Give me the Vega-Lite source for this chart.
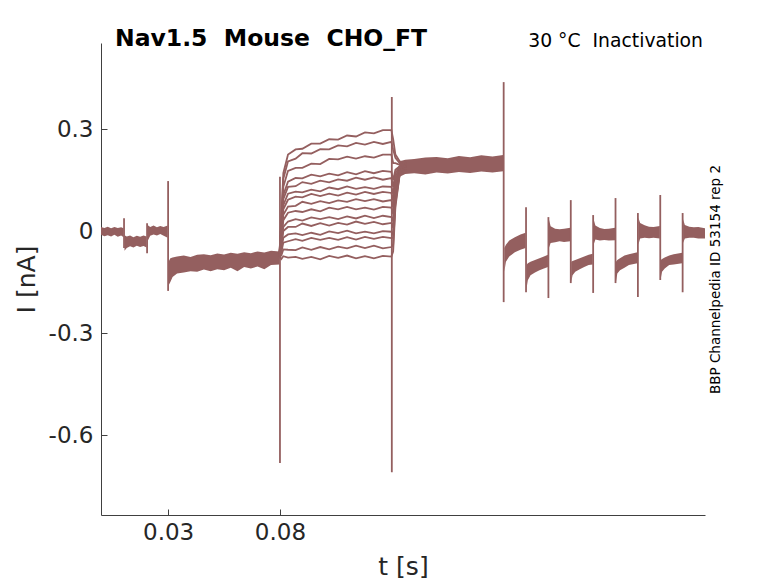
{
  "$schema": "https://vega.github.io/schema/vega-lite/v6.json",
  "width": 604,
  "height": 472,
  "autosize": "none",
  "padding": {"left": 101, "top": 43, "right": 73, "bottom": 68},
  "background": "white",
  "title": {
    "text": "Nav1.5\u00a0\u00a0Mouse\u00a0\u00a0CHO_FT",
    "anchor": "start",
    "frame": "group",
    "dx": 14,
    "dy": 38,
    "offset": 1,
    "baseline": "alphabetic",
    "font": "DejaVu Sans",
    "fontSize": 23.5,
    "fontWeight": "bold",
    "color": "#000000"
  },
  "datasets": {
    "bands": [
      {"seg": "A", "t": 0, "lo": -0.011, "hi": 0.012},
      {"seg": "A", "t": 0.0015, "lo": -0.015, "hi": 0.009},
      {"seg": "A", "t": 0.003, "lo": -0.012, "hi": 0.013},
      {"seg": "A", "t": 0.0045, "lo": -0.016, "hi": 0.008},
      {"seg": "A", "t": 0.006, "lo": -0.011, "hi": 0.012},
      {"seg": "A", "t": 0.0075, "lo": -0.017, "hi": 0.009},
      {"seg": "A", "t": 0.009, "lo": -0.013, "hi": 0.011},
      {"seg": "A", "t": 0.0101, "lo": -0.018, "hi": 0.008},
      {"seg": "B", "t": 0.0105, "lo": -0.058, "hi": -0.012},
      {"seg": "B", "t": 0.0115, "lo": -0.05, "hi": -0.016},
      {"seg": "B", "t": 0.013, "lo": -0.045, "hi": -0.013},
      {"seg": "B", "t": 0.0145, "lo": -0.048, "hi": -0.018},
      {"seg": "B", "t": 0.016, "lo": -0.043, "hi": -0.014},
      {"seg": "B", "t": 0.0175, "lo": -0.047, "hi": -0.017},
      {"seg": "B", "t": 0.019, "lo": -0.044, "hi": -0.013},
      {"seg": "B", "t": 0.0204, "lo": -0.048, "hi": -0.016},
      {"seg": "C", "t": 0.0208, "lo": -0.03, "hi": 0.018},
      {"seg": "C", "t": 0.022, "lo": -0.014, "hi": 0.012},
      {"seg": "C", "t": 0.0235, "lo": -0.01, "hi": 0.016},
      {"seg": "C", "t": 0.025, "lo": -0.013, "hi": 0.011},
      {"seg": "C", "t": 0.0265, "lo": -0.009, "hi": 0.015},
      {"seg": "C", "t": 0.028, "lo": -0.014, "hi": 0.012},
      {"seg": "C", "t": 0.0298, "lo": -0.02, "hi": 0.016},
      {"seg": "D", "t": 0.0302, "lo": -0.16, "hi": -0.09},
      {"seg": "D", "t": 0.031, "lo": -0.15, "hi": -0.08},
      {"seg": "D", "t": 0.032, "lo": -0.135, "hi": -0.078},
      {"seg": "D", "t": 0.034, "lo": -0.125, "hi": -0.075},
      {"seg": "D", "t": 0.037, "lo": -0.122, "hi": -0.072},
      {"seg": "D", "t": 0.04, "lo": -0.118, "hi": -0.076},
      {"seg": "D", "t": 0.043, "lo": -0.12, "hi": -0.07},
      {"seg": "D", "t": 0.046, "lo": -0.113, "hi": -0.068},
      {"seg": "D", "t": 0.049, "lo": -0.118, "hi": -0.071},
      {"seg": "D", "t": 0.052, "lo": -0.112, "hi": -0.066},
      {"seg": "D", "t": 0.055, "lo": -0.115, "hi": -0.069},
      {"seg": "D", "t": 0.058, "lo": -0.108, "hi": -0.064},
      {"seg": "D", "t": 0.061, "lo": -0.118, "hi": -0.067},
      {"seg": "D", "t": 0.064, "lo": -0.106, "hi": -0.062},
      {"seg": "D", "t": 0.067, "lo": -0.11, "hi": -0.065},
      {"seg": "D", "t": 0.07, "lo": -0.104, "hi": -0.06},
      {"seg": "D", "t": 0.073, "lo": -0.112, "hi": -0.063},
      {"seg": "D", "t": 0.076, "lo": -0.1, "hi": -0.058},
      {"seg": "D", "t": 0.0798, "lo": -0.098, "hi": -0.06},
      {"seg": "F", "t": 0.1335, "lo": 0.16, "hi": 0.205},
      {"seg": "F", "t": 0.136, "lo": 0.168, "hi": 0.21},
      {"seg": "F", "t": 0.14, "lo": 0.17, "hi": 0.212},
      {"seg": "F", "t": 0.145, "lo": 0.166, "hi": 0.216},
      {"seg": "F", "t": 0.15, "lo": 0.172, "hi": 0.218},
      {"seg": "F", "t": 0.155, "lo": 0.169, "hi": 0.214},
      {"seg": "F", "t": 0.16, "lo": 0.174, "hi": 0.221},
      {"seg": "F", "t": 0.165, "lo": 0.171, "hi": 0.217},
      {"seg": "F", "t": 0.17, "lo": 0.175, "hi": 0.223},
      {"seg": "F", "t": 0.175, "lo": 0.172, "hi": 0.219},
      {"seg": "F", "t": 0.1798, "lo": 0.176, "hi": 0.224},
      {"seg": "G", "t": 0.1803, "lo": -0.12, "hi": -0.05},
      {"seg": "G", "t": 0.181, "lo": -0.09, "hi": -0.04},
      {"seg": "G", "t": 0.1825, "lo": -0.075, "hi": -0.028},
      {"seg": "G", "t": 0.185, "lo": -0.062, "hi": -0.018},
      {"seg": "G", "t": 0.1875, "lo": -0.055, "hi": -0.01},
      {"seg": "G", "t": 0.1898, "lo": -0.05, "hi": -0.005},
      {"seg": "H", "t": 0.1902, "lo": -0.17, "hi": -0.1},
      {"seg": "H", "t": 0.1908, "lo": -0.145, "hi": -0.095},
      {"seg": "H", "t": 0.192, "lo": -0.13, "hi": -0.09},
      {"seg": "H", "t": 0.194, "lo": -0.122, "hi": -0.085},
      {"seg": "H", "t": 0.196, "lo": -0.115, "hi": -0.08},
      {"seg": "H", "t": 0.198, "lo": -0.11, "hi": -0.075},
      {"seg": "H", "t": 0.1998, "lo": -0.106, "hi": -0.07},
      {"seg": "I", "t": 0.2002, "lo": -0.05, "hi": 0.035},
      {"seg": "I", "t": 0.201, "lo": -0.035, "hi": 0.014},
      {"seg": "I", "t": 0.203, "lo": -0.033, "hi": 0.007},
      {"seg": "I", "t": 0.205, "lo": -0.03, "hi": 0.005},
      {"seg": "I", "t": 0.207, "lo": -0.032, "hi": 0.007},
      {"seg": "I", "t": 0.2098, "lo": -0.03, "hi": 0.01},
      {"seg": "J", "t": 0.2102, "lo": -0.15, "hi": -0.09},
      {"seg": "J", "t": 0.2108, "lo": -0.13, "hi": -0.088},
      {"seg": "J", "t": 0.212, "lo": -0.12, "hi": -0.085},
      {"seg": "J", "t": 0.214, "lo": -0.112, "hi": -0.08},
      {"seg": "J", "t": 0.216, "lo": -0.106, "hi": -0.075},
      {"seg": "J", "t": 0.218, "lo": -0.1, "hi": -0.07},
      {"seg": "J", "t": 0.2198, "lo": -0.098, "hi": -0.067},
      {"seg": "K", "t": 0.2202, "lo": -0.04, "hi": 0.035},
      {"seg": "K", "t": 0.221, "lo": -0.025, "hi": 0.016},
      {"seg": "K", "t": 0.223, "lo": -0.028, "hi": 0.009},
      {"seg": "K", "t": 0.225, "lo": -0.026, "hi": 0.006},
      {"seg": "K", "t": 0.227, "lo": -0.028, "hi": 0.007},
      {"seg": "K", "t": 0.2298, "lo": -0.027, "hi": 0.01},
      {"seg": "L", "t": 0.2302, "lo": -0.15, "hi": -0.09},
      {"seg": "L", "t": 0.2308, "lo": -0.125, "hi": -0.085},
      {"seg": "L", "t": 0.232, "lo": -0.115, "hi": -0.08},
      {"seg": "L", "t": 0.234, "lo": -0.108, "hi": -0.072},
      {"seg": "L", "t": 0.236, "lo": -0.1, "hi": -0.068},
      {"seg": "L", "t": 0.2398, "lo": -0.095, "hi": -0.062},
      {"seg": "M", "t": 0.2402, "lo": -0.04, "hi": 0.04},
      {"seg": "M", "t": 0.241, "lo": -0.022, "hi": 0.024},
      {"seg": "M", "t": 0.243, "lo": -0.02, "hi": 0.017},
      {"seg": "M", "t": 0.245, "lo": -0.021, "hi": 0.013},
      {"seg": "M", "t": 0.247, "lo": -0.02, "hi": 0.012},
      {"seg": "M", "t": 0.2498, "lo": -0.022, "hi": 0.015},
      {"seg": "N", "t": 0.2502, "lo": -0.14, "hi": -0.085},
      {"seg": "N", "t": 0.2508, "lo": -0.12, "hi": -0.082},
      {"seg": "N", "t": 0.252, "lo": -0.11, "hi": -0.078},
      {"seg": "N", "t": 0.254, "lo": -0.1, "hi": -0.072},
      {"seg": "N", "t": 0.256, "lo": -0.098, "hi": -0.068},
      {"seg": "N", "t": 0.2598, "lo": -0.095, "hi": -0.064},
      {"seg": "O", "t": 0.2602, "lo": -0.035, "hi": 0.035},
      {"seg": "O", "t": 0.261, "lo": -0.022, "hi": 0.018},
      {"seg": "O", "t": 0.263, "lo": -0.02, "hi": 0.013},
      {"seg": "O", "t": 0.265, "lo": -0.02, "hi": 0.011},
      {"seg": "O", "t": 0.267, "lo": -0.022, "hi": 0.012},
      {"seg": "O", "t": 0.27, "lo": -0.022, "hi": 0.008}
    ],
    "lines": [
      {"id": "p1", "t": 0.0103, "v": 0.038}, {"id": "p1", "t": 0.0103, "v": -0.05},
      {"id": "p2", "t": 0.0206, "v": 0.023}, {"id": "p2", "t": 0.0206, "v": -0.065},
      {"id": "p3", "t": 0.03, "v": 0.147}, {"id": "p3", "t": 0.03, "v": -0.176},
      {"id": "p4", "t": 0.08, "v": 0.16}, {"id": "p4", "t": 0.08, "v": -0.682},
      {"id": "p5", "t": 0.13, "v": 0.394}, {"id": "p5", "t": 0.13, "v": -0.709},
      {"id": "p6", "t": 0.18, "v": 0.438}, {"id": "p6", "t": 0.18, "v": -0.209},
      {"id": "p7", "t": 0.19, "v": 0.07}, {"id": "p7", "t": 0.19, "v": -0.18},
      {"id": "p8", "t": 0.2, "v": 0.041}, {"id": "p8", "t": 0.2, "v": -0.197},
      {"id": "p9", "t": 0.21, "v": 0.091}, {"id": "p9", "t": 0.21, "v": -0.153},
      {"id": "p10", "t": 0.22, "v": 0.047}, {"id": "p10", "t": 0.22, "v": -0.182},
      {"id": "p11", "t": 0.23, "v": 0.097}, {"id": "p11", "t": 0.23, "v": -0.153},
      {"id": "p12", "t": 0.24, "v": 0.053}, {"id": "p12", "t": 0.24, "v": -0.194},
      {"id": "p13", "t": 0.25, "v": 0.106}, {"id": "p13", "t": 0.25, "v": -0.144},
      {"id": "p14", "t": 0.26, "v": 0.053}, {"id": "p14", "t": 0.26, "v": -0.18},

      {"id": "s1", "t": 0.0797, "v": -0.075}, {"id": "s1", "t": 0.0806, "v": 0.04}, {"id": "s1", "t": 0.0815, "v": 0.17},
      {"id": "s1", "t": 0.0836, "v": 0.225}, {"id": "s1", "t": 0.087, "v": 0.24}, {"id": "s1", "t": 0.09, "v": 0.242},
      {"id": "s1", "t": 0.094, "v": 0.257}, {"id": "s1", "t": 0.098, "v": 0.257}, {"id": "s1", "t": 0.102, "v": 0.27},
      {"id": "s1", "t": 0.106, "v": 0.269}, {"id": "s1", "t": 0.11, "v": 0.281}, {"id": "s1", "t": 0.114, "v": 0.278},
      {"id": "s1", "t": 0.118, "v": 0.29}, {"id": "s1", "t": 0.122, "v": 0.287}, {"id": "s1", "t": 0.126, "v": 0.297},
      {"id": "s1", "t": 0.1298, "v": 0.297}, {"id": "s1", "t": 0.1306, "v": 0.27}, {"id": "s1", "t": 0.1316, "v": 0.225},
      {"id": "s1", "t": 0.1335, "v": 0.205}, {"id": "s1", "t": 0.1365, "v": 0.2},

      {"id": "s2", "t": 0.0797, "v": -0.075}, {"id": "s2", "t": 0.0806, "v": 0.032}, {"id": "s2", "t": 0.0815, "v": 0.154},
      {"id": "s2", "t": 0.0836, "v": 0.205}, {"id": "s2", "t": 0.087, "v": 0.213}, {"id": "s2", "t": 0.09, "v": 0.229},
      {"id": "s2", "t": 0.094, "v": 0.228}, {"id": "s2", "t": 0.098, "v": 0.241}, {"id": "s2", "t": 0.102, "v": 0.24},
      {"id": "s2", "t": 0.106, "v": 0.252}, {"id": "s2", "t": 0.11, "v": 0.249}, {"id": "s2", "t": 0.114, "v": 0.259},
      {"id": "s2", "t": 0.118, "v": 0.254}, {"id": "s2", "t": 0.122, "v": 0.262}, {"id": "s2", "t": 0.126, "v": 0.256},
      {"id": "s2", "t": 0.1298, "v": 0.262}, {"id": "s2", "t": 0.1306, "v": 0.24}, {"id": "s2", "t": 0.1316, "v": 0.215},
      {"id": "s2", "t": 0.1335, "v": 0.2}, {"id": "s2", "t": 0.1365, "v": 0.198},

      {"id": "s3", "t": 0.0797, "v": -0.075}, {"id": "s3", "t": 0.0806, "v": 0.02}, {"id": "s3", "t": 0.0815, "v": 0.13},
      {"id": "s3", "t": 0.0836, "v": 0.177}, {"id": "s3", "t": 0.087, "v": 0.186}, {"id": "s3", "t": 0.09, "v": 0.186},
      {"id": "s3", "t": 0.094, "v": 0.198}, {"id": "s3", "t": 0.098, "v": 0.197}, {"id": "s3", "t": 0.102, "v": 0.212},
      {"id": "s3", "t": 0.106, "v": 0.211}, {"id": "s3", "t": 0.11, "v": 0.219}, {"id": "s3", "t": 0.114, "v": 0.213},
      {"id": "s3", "t": 0.118, "v": 0.22}, {"id": "s3", "t": 0.122, "v": 0.216}, {"id": "s3", "t": 0.126, "v": 0.225},
      {"id": "s3", "t": 0.1298, "v": 0.225}, {"id": "s3", "t": 0.1306, "v": 0.2}, {"id": "s3", "t": 0.1316, "v": 0.2},
      {"id": "s3", "t": 0.1335, "v": 0.195}, {"id": "s3", "t": 0.1365, "v": 0.196},

      {"id": "s4", "t": 0.0797, "v": -0.075}, {"id": "s4", "t": 0.0806, "v": 0.008}, {"id": "s4", "t": 0.0815, "v": 0.106},
      {"id": "s4", "t": 0.0836, "v": 0.145}, {"id": "s4", "t": 0.087, "v": 0.156}, {"id": "s4", "t": 0.09, "v": 0.155},
      {"id": "s4", "t": 0.094, "v": 0.166}, {"id": "s4", "t": 0.098, "v": 0.161}, {"id": "s4", "t": 0.102, "v": 0.169},
      {"id": "s4", "t": 0.106, "v": 0.164}, {"id": "s4", "t": 0.11, "v": 0.173}, {"id": "s4", "t": 0.114, "v": 0.167},
      {"id": "s4", "t": 0.118, "v": 0.176}, {"id": "s4", "t": 0.122, "v": 0.17}, {"id": "s4", "t": 0.126, "v": 0.177},
      {"id": "s4", "t": 0.1298, "v": 0.174}, {"id": "s4", "t": 0.1306, "v": 0.15}, {"id": "s4", "t": 0.1316, "v": 0.18},
      {"id": "s4", "t": 0.1335, "v": 0.19}, {"id": "s4", "t": 0.1365, "v": 0.194},

      {"id": "s5", "t": 0.0797, "v": -0.075}, {"id": "s5", "t": 0.0806, "v": 0.002}, {"id": "s5", "t": 0.0815, "v": 0.094},
      {"id": "s5", "t": 0.0836, "v": 0.13}, {"id": "s5", "t": 0.087, "v": 0.132}, {"id": "s5", "t": 0.09, "v": 0.144},
      {"id": "s5", "t": 0.094, "v": 0.139}, {"id": "s5", "t": 0.098, "v": 0.148}, {"id": "s5", "t": 0.102, "v": 0.143},
      {"id": "s5", "t": 0.106, "v": 0.152}, {"id": "s5", "t": 0.11, "v": 0.148}, {"id": "s5", "t": 0.114, "v": 0.157},
      {"id": "s5", "t": 0.118, "v": 0.151}, {"id": "s5", "t": 0.122, "v": 0.158}, {"id": "s5", "t": 0.126, "v": 0.151},
      {"id": "s5", "t": 0.1298, "v": 0.156}, {"id": "s5", "t": 0.1306, "v": 0.13}, {"id": "s5", "t": 0.1316, "v": 0.17},
      {"id": "s5", "t": 0.1335, "v": 0.19}, {"id": "s5", "t": 0.1365, "v": 0.192},

      {"id": "s6", "t": 0.0797, "v": -0.075}, {"id": "s6", "t": 0.0806, "v": -0.007}, {"id": "s6", "t": 0.0815, "v": 0.076},
      {"id": "s6", "t": 0.0836, "v": 0.11}, {"id": "s6", "t": 0.087, "v": 0.116}, {"id": "s6", "t": 0.09, "v": 0.114},
      {"id": "s6", "t": 0.094, "v": 0.122}, {"id": "s6", "t": 0.098, "v": 0.117}, {"id": "s6", "t": 0.102, "v": 0.128},
      {"id": "s6", "t": 0.106, "v": 0.123}, {"id": "s6", "t": 0.11, "v": 0.131}, {"id": "s6", "t": 0.114, "v": 0.124},
      {"id": "s6", "t": 0.118, "v": 0.129}, {"id": "s6", "t": 0.122, "v": 0.124}, {"id": "s6", "t": 0.126, "v": 0.131},
      {"id": "s6", "t": 0.1298, "v": 0.13}, {"id": "s6", "t": 0.1306, "v": 0.11}, {"id": "s6", "t": 0.1316, "v": 0.16},
      {"id": "s6", "t": 0.1335, "v": 0.185}, {"id": "s6", "t": 0.1365, "v": 0.19},

      {"id": "s7", "t": 0.0797, "v": -0.075}, {"id": "s7", "t": 0.0806, "v": -0.013}, {"id": "s7", "t": 0.0815, "v": 0.064},
      {"id": "s7", "t": 0.0836, "v": 0.092}, {"id": "s7", "t": 0.087, "v": 0.101}, {"id": "s7", "t": 0.09, "v": 0.099},
      {"id": "s7", "t": 0.094, "v": 0.109}, {"id": "s7", "t": 0.098, "v": 0.103}, {"id": "s7", "t": 0.102, "v": 0.11},
      {"id": "s7", "t": 0.106, "v": 0.104}, {"id": "s7", "t": 0.11, "v": 0.113}, {"id": "s7", "t": 0.114, "v": 0.107},
      {"id": "s7", "t": 0.118, "v": 0.115}, {"id": "s7", "t": 0.122, "v": 0.109}, {"id": "s7", "t": 0.126, "v": 0.115},
      {"id": "s7", "t": 0.1298, "v": 0.112}, {"id": "s7", "t": 0.1306, "v": 0.09}, {"id": "s7", "t": 0.1316, "v": 0.15},
      {"id": "s7", "t": 0.1335, "v": 0.18}, {"id": "s7", "t": 0.1365, "v": 0.19},

      {"id": "s8", "t": 0.0797, "v": -0.075}, {"id": "s8", "t": 0.0806, "v": -0.021}, {"id": "s8", "t": 0.0815, "v": 0.048},
      {"id": "s8", "t": 0.0836, "v": 0.072}, {"id": "s8", "t": 0.087, "v": 0.074}, {"id": "s8", "t": 0.09, "v": 0.086},
      {"id": "s8", "t": 0.094, "v": 0.08}, {"id": "s8", "t": 0.098, "v": 0.088}, {"id": "s8", "t": 0.102, "v": 0.082},
      {"id": "s8", "t": 0.106, "v": 0.09}, {"id": "s8", "t": 0.11, "v": 0.086}, {"id": "s8", "t": 0.114, "v": 0.094},
      {"id": "s8", "t": 0.118, "v": 0.088}, {"id": "s8", "t": 0.122, "v": 0.094}, {"id": "s8", "t": 0.126, "v": 0.087},
      {"id": "s8", "t": 0.1298, "v": 0.091}, {"id": "s8", "t": 0.1306, "v": 0.07}, {"id": "s8", "t": 0.1316, "v": 0.14},
      {"id": "s8", "t": 0.1335, "v": 0.18}, {"id": "s8", "t": 0.1365, "v": 0.188},

      {"id": "s9", "t": 0.0797, "v": -0.075}, {"id": "s9", "t": 0.0806, "v": -0.029}, {"id": "s9", "t": 0.0815, "v": 0.032},
      {"id": "s9", "t": 0.0836, "v": 0.054}, {"id": "s9", "t": 0.087, "v": 0.059}, {"id": "s9", "t": 0.09, "v": 0.056},
      {"id": "s9", "t": 0.094, "v": 0.064}, {"id": "s9", "t": 0.098, "v": 0.058}, {"id": "s9", "t": 0.102, "v": 0.069},
      {"id": "s9", "t": 0.106, "v": 0.064}, {"id": "s9", "t": 0.11, "v": 0.071}, {"id": "s9", "t": 0.114, "v": 0.064},
      {"id": "s9", "t": 0.118, "v": 0.069}, {"id": "s9", "t": 0.122, "v": 0.063}, {"id": "s9", "t": 0.126, "v": 0.071},
      {"id": "s9", "t": 0.1298, "v": 0.069}, {"id": "s9", "t": 0.1306, "v": 0.05}, {"id": "s9", "t": 0.1316, "v": 0.13},
      {"id": "s9", "t": 0.1335, "v": 0.175}, {"id": "s9", "t": 0.1365, "v": 0.186},

      {"id": "s10", "t": 0.0797, "v": -0.075}, {"id": "s10", "t": 0.0806, "v": -0.039}, {"id": "s10", "t": 0.0815, "v": 0.012},
      {"id": "s10", "t": 0.0836, "v": 0.028}, {"id": "s10", "t": 0.087, "v": 0.035}, {"id": "s10", "t": 0.09, "v": 0.031},
      {"id": "s10", "t": 0.094, "v": 0.04}, {"id": "s10", "t": 0.098, "v": 0.035}, {"id": "s10", "t": 0.102, "v": 0.041},
      {"id": "s10", "t": 0.106, "v": 0.035}, {"id": "s10", "t": 0.11, "v": 0.043}, {"id": "s10", "t": 0.114, "v": 0.037},
      {"id": "s10", "t": 0.118, "v": 0.045}, {"id": "s10", "t": 0.122, "v": 0.038}, {"id": "s10", "t": 0.126, "v": 0.045},
      {"id": "s10", "t": 0.1298, "v": 0.041}, {"id": "s10", "t": 0.1306, "v": 0.03}, {"id": "s10", "t": 0.1316, "v": 0.12},
      {"id": "s10", "t": 0.1335, "v": 0.175}, {"id": "s10", "t": 0.1365, "v": 0.185},

      {"id": "s11", "t": 0.0797, "v": -0.075}, {"id": "s11", "t": 0.0806, "v": -0.045}, {"id": "s11", "t": 0.0815, "v": 0.0},
      {"id": "s11", "t": 0.0836, "v": 0.012}, {"id": "s11", "t": 0.087, "v": 0.012}, {"id": "s11", "t": 0.09, "v": 0.022},
      {"id": "s11", "t": 0.094, "v": 0.015}, {"id": "s11", "t": 0.098, "v": 0.023}, {"id": "s11", "t": 0.102, "v": 0.016},
      {"id": "s11", "t": 0.106, "v": 0.024}, {"id": "s11", "t": 0.11, "v": 0.019}, {"id": "s11", "t": 0.114, "v": 0.028},
      {"id": "s11", "t": 0.118, "v": 0.021}, {"id": "s11", "t": 0.122, "v": 0.027}, {"id": "s11", "t": 0.126, "v": 0.02},
      {"id": "s11", "t": 0.1298, "v": 0.024}, {"id": "s11", "t": 0.1306, "v": 0.01}, {"id": "s11", "t": 0.1316, "v": 0.11},
      {"id": "s11", "t": 0.1335, "v": 0.17}, {"id": "s11", "t": 0.1365, "v": 0.184},

      {"id": "s12", "t": 0.0797, "v": -0.075}, {"id": "s12", "t": 0.0806, "v": -0.055}, {"id": "s12", "t": 0.0815, "v": -0.02},
      {"id": "s12", "t": 0.0836, "v": -0.01}, {"id": "s12", "t": 0.087, "v": -0.007}, {"id": "s12", "t": 0.09, "v": -0.012},
      {"id": "s12", "t": 0.094, "v": -0.005}, {"id": "s12", "t": 0.098, "v": -0.011}, {"id": "s12", "t": 0.102, "v": -0.001},
      {"id": "s12", "t": 0.106, "v": -0.006}, {"id": "s12", "t": 0.11, "v": 0.001}, {"id": "s12", "t": 0.114, "v": -0.007},
      {"id": "s12", "t": 0.118, "v": -0.002}, {"id": "s12", "t": 0.122, "v": -0.007}, {"id": "s12", "t": 0.126, "v": 0.0},
      {"id": "s12", "t": 0.1298, "v": -0.002}, {"id": "s12", "t": 0.1306, "v": -0.01}, {"id": "s12", "t": 0.1316, "v": 0.1},
      {"id": "s12", "t": 0.1335, "v": 0.17}, {"id": "s12", "t": 0.1365, "v": 0.182},

      {"id": "s13", "t": 0.0797, "v": -0.075}, {"id": "s13", "t": 0.0806, "v": -0.062}, {"id": "s13", "t": 0.0815, "v": -0.034},
      {"id": "s13", "t": 0.0836, "v": -0.03}, {"id": "s13", "t": 0.087, "v": -0.024}, {"id": "s13", "t": 0.09, "v": -0.029},
      {"id": "s13", "t": 0.094, "v": -0.02}, {"id": "s13", "t": 0.098, "v": -0.026}, {"id": "s13", "t": 0.102, "v": -0.02},
      {"id": "s13", "t": 0.106, "v": -0.026}, {"id": "s13", "t": 0.11, "v": -0.018}, {"id": "s13", "t": 0.114, "v": -0.025},
      {"id": "s13", "t": 0.118, "v": -0.017}, {"id": "s13", "t": 0.122, "v": -0.023}, {"id": "s13", "t": 0.126, "v": -0.017},
      {"id": "s13", "t": 0.1298, "v": -0.021}, {"id": "s13", "t": 0.1306, "v": -0.02}, {"id": "s13", "t": 0.1316, "v": 0.09},
      {"id": "s13", "t": 0.1335, "v": 0.168}, {"id": "s13", "t": 0.1365, "v": 0.18},

      {"id": "s14", "t": 0.0797, "v": -0.075}, {"id": "s14", "t": 0.0806, "v": -0.072}, {"id": "s14", "t": 0.0815, "v": -0.054},
      {"id": "s14", "t": 0.0836, "v": -0.055}, {"id": "s14", "t": 0.087, "v": -0.056}, {"id": "s14", "t": 0.09, "v": -0.048},
      {"id": "s14", "t": 0.094, "v": -0.055}, {"id": "s14", "t": 0.098, "v": -0.047}, {"id": "s14", "t": 0.102, "v": -0.054},
      {"id": "s14", "t": 0.106, "v": -0.046}, {"id": "s14", "t": 0.11, "v": -0.051}, {"id": "s14", "t": 0.114, "v": -0.043},
      {"id": "s14", "t": 0.118, "v": -0.05}, {"id": "s14", "t": 0.122, "v": -0.043}, {"id": "s14", "t": 0.126, "v": -0.051},
      {"id": "s14", "t": 0.1298, "v": -0.047}, {"id": "s14", "t": 0.1306, "v": -0.04}, {"id": "s14", "t": 0.1316, "v": 0.08},
      {"id": "s14", "t": 0.1335, "v": 0.166}, {"id": "s14", "t": 0.1365, "v": 0.178},

      {"id": "s15", "t": 0.0797, "v": -0.075}, {"id": "s15", "t": 0.0806, "v": -0.082}, {"id": "s15", "t": 0.0815, "v": -0.074},
      {"id": "s15", "t": 0.0836, "v": -0.078}, {"id": "s15", "t": 0.087, "v": -0.076}, {"id": "s15", "t": 0.09, "v": -0.082},
      {"id": "s15", "t": 0.094, "v": -0.076}, {"id": "s15", "t": 0.098, "v": -0.083}, {"id": "s15", "t": 0.102, "v": -0.073},
      {"id": "s15", "t": 0.106, "v": -0.079}, {"id": "s15", "t": 0.11, "v": -0.072}, {"id": "s15", "t": 0.114, "v": -0.08},
      {"id": "s15", "t": 0.118, "v": -0.074}, {"id": "s15", "t": 0.122, "v": -0.08}, {"id": "s15", "t": 0.126, "v": -0.073},
      {"id": "s15", "t": 0.1298, "v": -0.075}, {"id": "s15", "t": 0.1306, "v": -0.06}, {"id": "s15", "t": 0.1316, "v": 0.07},
      {"id": "s15", "t": 0.1335, "v": 0.165}, {"id": "s15", "t": 0.1365, "v": 0.176}
    ]
  },
  "layer": [
    {
      "data": {"name": "bands"},
      "mark": {"type": "area", "color": "#945f5f", "opacity": 1},
      "encoding": {
        "x": {
          "field": "t",
          "type": "quantitative",
          "scale": {"domain": [0, 0.27], "nice": false, "zero": false},
          "axis": {
            "title": "t [s]",
            "values": [0.03, 0.08],
            "format": ".2f",
            "grid": false
          }
        },
        "y": {
          "field": "lo",
          "type": "quantitative",
          "scale": {"domain": [-0.835, 0.553], "nice": false, "zero": false},
          "axis": {
            "title": "I [nA]",
            "values": [-0.6, -0.3, 0, 0.3],
            "format": ".1~f",
            "labelExpr": "replace(datum.label, '\u2212', '-')",
            "grid": false
          }
        },
        "y2": {"field": "hi"},
        "detail": {"field": "seg", "type": "nominal"}
      }
    },
    {
      "data": {"name": "lines"},
      "mark": {"type": "line", "color": "#945f5f", "strokeWidth": 1.8},
      "encoding": {
        "x": {"field": "t", "type": "quantitative"},
        "y": {"field": "v", "type": "quantitative", "axis": null},
        "detail": {"field": "id", "type": "nominal"}
      }
    },
    {
      "data": {"values": [{"t": 0.27, "v": 0.541, "label": "30\u00a0°C\u00a0\u00a0Inactivation"}]},
      "mark": {
        "type": "text",
        "align": "right",
        "baseline": "alphabetic",
        "dx": -2,
        "font": "DejaVu Sans",
        "fontSize": 18.8,
        "color": "#000000"
      },
      "encoding": {
        "x": {"field": "t", "type": "quantitative"},
        "y": {
          "field": "v",
          "type": "quantitative",
          "axis": {
            "orient": "right",
            "title": "BBP Channelpedia ID 53154 rep 2",
            "titleAngle": 270,
            "titleBaseline": "top",
            "titlePadding": 3,
            "titleFontSize": 13.5,
            "titleFontWeight": "normal",
            "titleColor": "#000000",
            "labels": false,
            "ticks": false,
            "domain": false,
            "grid": false
          }
        },
        "text": {"field": "label", "type": "nominal"}
      }
    }
  ],
  "resolve": {"axis": {"y": "independent"}},
  "config": {
    "view": {"stroke": null},
    "font": "DejaVu Sans",
    "axis": {
      "domainColor": "#404040",
      "domainWidth": 1,
      "tickColor": "#404040",
      "tickSize": -6,
      "labelFont": "DejaVu Sans",
      "labelFontSize": 23,
      "labelColor": "#262626",
      "titleFont": "DejaVu Sans",
      "titleFontSize": 25,
      "titleFontWeight": "normal",
      "titleColor": "#262626"
    },
    "axisX": {"labelPadding": 12, "titlePadding": 10},
    "axisLeft": {"labelPadding": 14, "titlePadding": 9}
  }
}
